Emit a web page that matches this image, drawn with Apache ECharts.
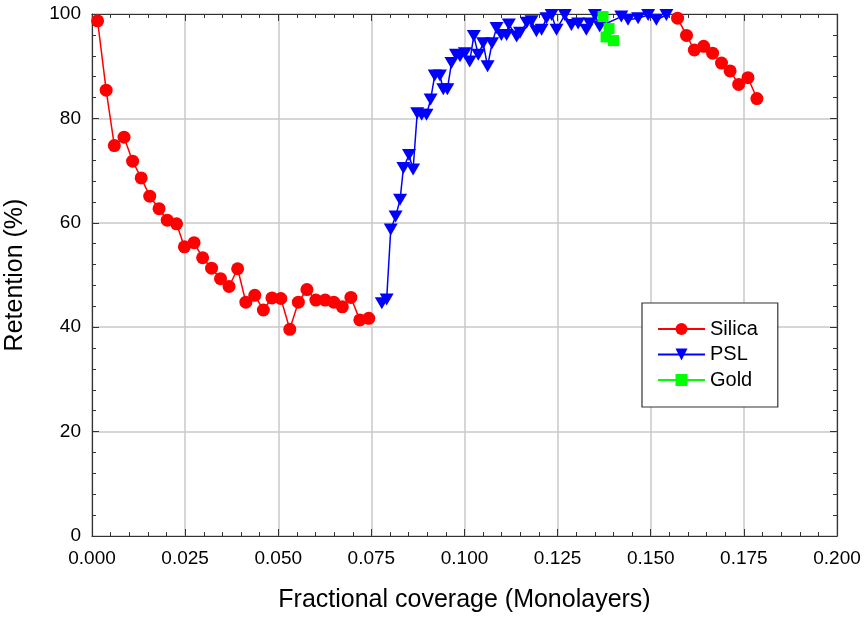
<!DOCTYPE html>
<html>
<head>
<meta charset="utf-8">
<script src="https://cdn.jsdelivr.net/npm/echarts@6/dist/echarts.min.js"></script>
<style>html,body{margin:0;padding:0;background:#fff}#c{width:865px;height:618px}</style>
</head>
<body>
<div id="c"></div>
<script>
var xTicks = [0, 0.025, 0.05, 0.075, 0.1, 0.125, 0.15, 0.175, 0.2];
var yTicks = [0, 20, 40, 60, 80, 100];

var silicaX1 = [0.0015,0.0038,0.0060,0.0086,0.0109,0.0132,0.0155,0.0180,0.0202,0.0227,0.0248,0.0274,0.0297,0.0321,0.0345,0.0368,0.0391,0.0413,0.0437,0.0460,0.0483,0.0507,0.0531,0.0554,0.0577,0.0601,0.0626,0.0649,0.0672,0.0695,0.0719,0.0743];
var silicaY1 = [98.7,85.4,74.8,76.4,71.8,68.6,65.1,62.7,60.5,59.8,55.4,56.2,53.3,51.3,49.3,47.8,51.2,44.8,46.1,43.3,45.6,45.5,39.6,44.8,47.2,45.2,45.2,44.8,43.9,45.7,41.4,41.7];
var silicaX2 = [0.1572,0.1596,0.1617,0.1642,0.1666,0.1690,0.1713,0.1736,0.1761,0.1785];
var silicaY2 = [99.2,95.9,93.1,93.8,92.5,90.6,89.1,86.5,87.8,83.8];

var pslX = [0.0778,0.0791,0.0802,0.0815,0.0827,0.0836,0.0851,0.0862,0.0873,0.0885,0.0898,0.0909,0.0920,0.0934,0.0943,0.0954,0.0965,0.0977,0.0988,0.1001,0.1014,0.1025,0.1037,0.1050,0.1062,0.1074,0.1086,0.1099,0.1113,0.1119,0.1140,0.1149,0.1167,0.1180,0.1193,0.1207,0.1220,0.1234,0.1247,0.1269,0.1287,0.1305,0.1327,0.1336,0.1350,0.1363,0.1421,0.1439,0.1466,0.1493,0.1515,0.1542];
var pslY = [44.6,45.3,58.7,61.2,64.4,70.5,73.0,70.2,81.0,80.7,80.7,83.6,88.2,88.2,85.6,85.6,90.6,92.2,91.9,92.5,90.9,95.8,92.2,94.4,90.0,94.4,97.3,96.0,96.0,98.0,95.7,96.4,98.3,98.6,96.7,97.0,99.2,99.8,97.0,99.8,97.9,98.2,97.0,98.2,99.8,97.6,99.5,98.9,99.2,99.8,98.9,99.8];

var goldX = [0.1372,0.1388,0.1380,0.1400];
var goldY = [99.5,97.2,95.6,94.9];

function pairs(xs, ys){ return xs.map(function(x,i){ return [x, ys[i]]; }); }
var silicaData = pairs(silicaX1, silicaY1).concat([['-','-']]).concat(pairs(silicaX2, silicaY2));

var FONT = 'Liberation Sans, Arial, sans-serif';
var chart = echarts.init(document.getElementById('c'), null, {renderer:'canvas'});

var gridLine = {show:true, lineStyle:{color:'#c8c8c8', width:1.5}};
var axLine = {show:true, onZero:false, lineStyle:{color:'#333', width:1.2}};
var tick = {show:true, inside:true, length:7, lineStyle:{color:'#333'}};
var minor = {show:true, splitNumber:5, length:4, lineStyle:{color:'#333'}};

var option = {
  animation:false,
  backgroundColor:'#fff',
  grid:{left:92, right:28, top:14, bottom:82, containLabel:false, outerBoundsMode:'none'},
  xAxis:[{
    type:'value', min:0, max:0.2, interval:0.025,
    name:'Fractional coverage (Monolayers)', nameLocation:'middle', nameGap:52,
    nameTextStyle:{fontFamily:FONT, fontSize:25, color:'#000'},
    axisLine:axLine, axisTick:tick, minorTick:minor,
    axisLabel:{fontFamily:FONT, fontSize:19, color:'#000', margin:13, formatter:function(v){return v.toFixed(3);}},
    splitLine:gridLine
  },{
    type:'value', min:0, max:0.2, interval:0.025, position:'top',
    axisLine:axLine, axisTick:tick, minorTick:minor,
    axisLabel:{show:false}, splitLine:{show:false}
  }],
  yAxis:[{
    type:'value', min:0, max:100, interval:20,
    name:'Retention (%)', nameLocation:'middle', nameGap:64, nameRotate:90,
    nameTextStyle:{fontFamily:FONT, fontSize:25, color:'#000'},
    axisLine:axLine, axisTick:tick, minorTick:minor,
    axisLabel:{fontFamily:FONT, fontSize:19, color:'#000', margin:11},
    splitLine:gridLine
  },{
    type:'value', min:0, max:100, interval:20, position:'right',
    axisLine:axLine, axisTick:tick, minorTick:minor,
    axisLabel:{show:false}, splitLine:{show:false}
  }],
  legend:{
    orient:'vertical', left:642, top:303,
    padding:[16,20,17,15], itemGap:5.5, itemWidth:47, itemHeight:15,
    borderColor:'#333', borderWidth:1.2, backgroundColor:'#fff',
    textStyle:{fontFamily:FONT, fontSize:20, color:'#000'},
    data:['Silica','PSL','Gold']
  },
  series:[{
    name:'Silica', type:'line', data:silicaData, connectNulls:false, clip:false,
    symbol:'circle', symbolSize:13, itemStyle:{color:'#ff0000'},
    lineStyle:{color:'#ff0000', width:1.5}
  },{
    name:'PSL', type:'line', data:pairs(pslX, pslY), clip:false,
    symbol:'triangle', symbolRotate:180, symbolSize:[14,12], itemStyle:{color:'#0000ff'},
    lineStyle:{color:'#0000ff', width:1.5}
  },{
    name:'Gold', type:'line', data:pairs(goldX, goldY), clip:false,
    symbol:'rect', symbolSize:11, itemStyle:{color:'#00ff00'},
    lineStyle:{color:'#00ff00', width:1.5}
  }]
};
chart.setOption(option);
</script>
</body>
</html>
